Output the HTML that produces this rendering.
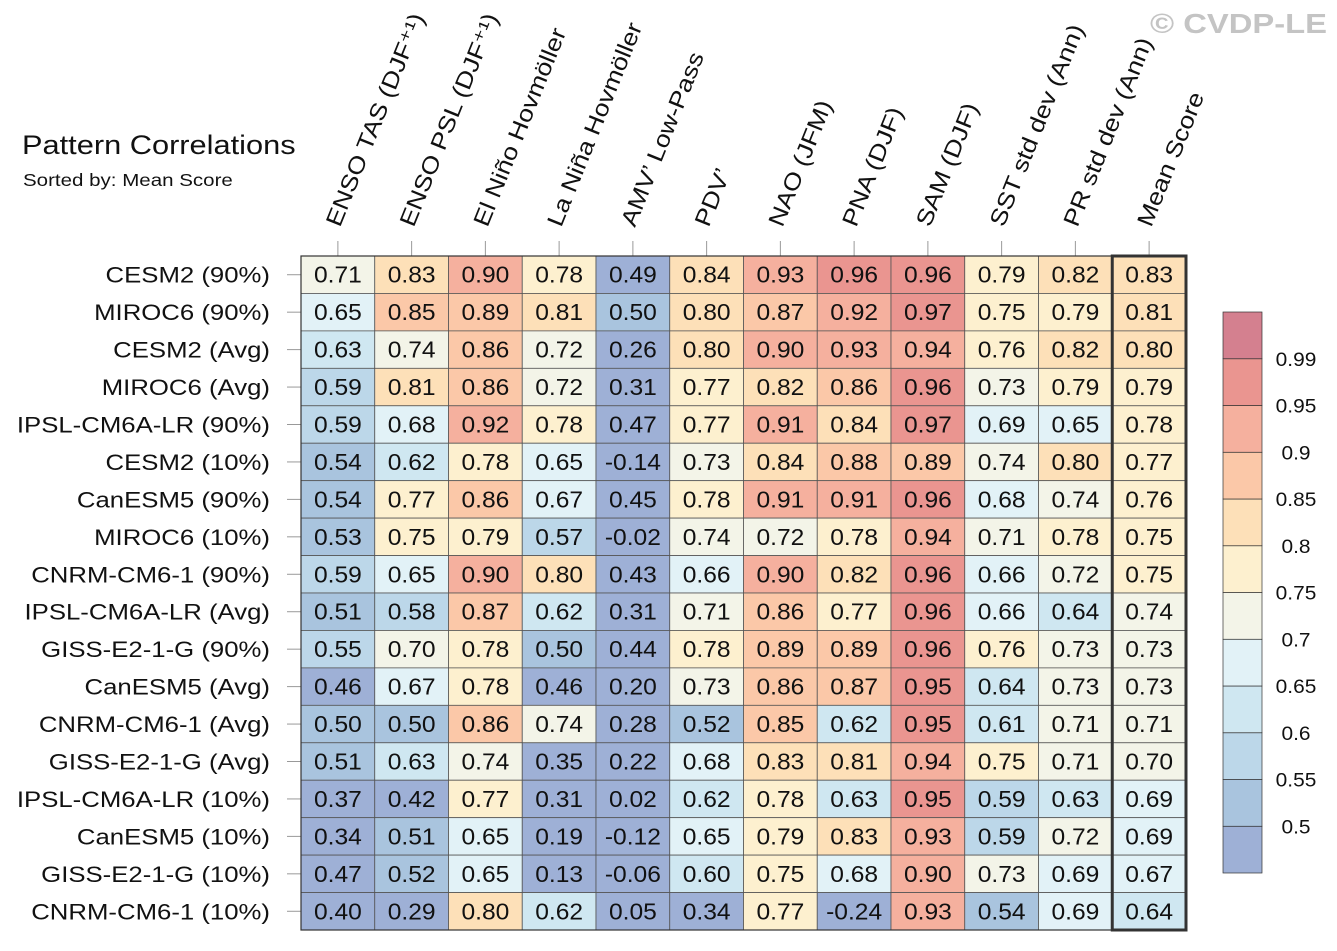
<!DOCTYPE html>
<html><head><meta charset="utf-8"><style>
html,body{margin:0;padding:0;background:#fff;}
svg{display:block;font-family:"Liberation Sans",Arial,sans-serif;}
</style></head><body>
<svg id="chart" width="1337" height="951" viewBox="0 0 1337 951">
<text transform="translate(1327,33) scale(1.17,1)" x="0" y="0" text-anchor="end" font-size="28" font-weight="bold" fill="#c4c4c4">© CVDP-LE</text>
<text transform="translate(22,154) scale(1.14,1)" x="0" y="0" font-size="27" fill="#111">Pattern Correlations</text>
<text transform="translate(23,186) scale(1.14,1)" x="0" y="0" font-size="18" fill="#111">Sorted by: Mean Score</text>
<g id="grid"></g>
<g id="cbar"></g>
</svg>
<script>
const columns=["ENSO TAS (DJF⁺¹)","ENSO PSL (DJF⁺¹)","El Niño Hovmöller","La Niña Hovmöller","AMV’ Low-Pass","PDV’","NAO (JFM)","PNA (DJF)","SAM (DJF)","SST std dev (Ann)","PR std dev (Ann)","Mean Score"];
const rows=["CESM2 (90%)","MIROC6 (90%)","CESM2 (Avg)","MIROC6 (Avg)","IPSL-CM6A-LR (90%)","CESM2 (10%)","CanESM5 (90%)","MIROC6 (10%)","CNRM-CM6-1 (90%)","IPSL-CM6A-LR (Avg)","GISS-E2-1-G (90%)","CanESM5 (Avg)","CNRM-CM6-1 (Avg)","GISS-E2-1-G (Avg)","IPSL-CM6A-LR (10%)","CanESM5 (10%)","GISS-E2-1-G (10%)","CNRM-CM6-1 (10%)"];
const values=[
[0.71,0.83,0.90,0.78,0.49,0.84,0.93,0.96,0.96,0.79,0.82,0.83],
[0.65,0.85,0.89,0.81,0.50,0.80,0.87,0.92,0.97,0.75,0.79,0.81],
[0.63,0.74,0.86,0.72,0.26,0.80,0.90,0.93,0.94,0.76,0.82,0.80],
[0.59,0.81,0.86,0.72,0.31,0.77,0.82,0.86,0.96,0.73,0.79,0.79],
[0.59,0.68,0.92,0.78,0.47,0.77,0.91,0.84,0.97,0.69,0.65,0.78],
[0.54,0.62,0.78,0.65,-0.14,0.73,0.84,0.88,0.89,0.74,0.80,0.77],
[0.54,0.77,0.86,0.67,0.45,0.78,0.91,0.91,0.96,0.68,0.74,0.76],
[0.53,0.75,0.79,0.57,-0.02,0.74,0.72,0.78,0.94,0.71,0.78,0.75],
[0.59,0.65,0.90,0.80,0.43,0.66,0.90,0.82,0.96,0.66,0.72,0.75],
[0.51,0.58,0.87,0.62,0.31,0.71,0.86,0.77,0.96,0.66,0.64,0.74],
[0.55,0.70,0.78,0.50,0.44,0.78,0.89,0.89,0.96,0.76,0.73,0.73],
[0.46,0.67,0.78,0.46,0.20,0.73,0.86,0.87,0.95,0.64,0.73,0.73],
[0.50,0.50,0.86,0.74,0.28,0.52,0.85,0.62,0.95,0.61,0.71,0.71],
[0.51,0.63,0.74,0.35,0.22,0.68,0.83,0.81,0.94,0.75,0.71,0.70],
[0.37,0.42,0.77,0.31,0.02,0.62,0.78,0.63,0.95,0.59,0.63,0.69],
[0.34,0.51,0.65,0.19,-0.12,0.65,0.79,0.83,0.93,0.59,0.72,0.69],
[0.47,0.52,0.65,0.13,-0.06,0.60,0.75,0.68,0.90,0.73,0.69,0.67],
[0.40,0.29,0.80,0.62,0.05,0.34,0.77,-0.24,0.93,0.54,0.69,0.64]];
const levels=[0.5,0.55,0.6,0.65,0.7,0.75,0.8,0.85,0.9,0.95,0.99];
const levelLabels=["0.5","0.55","0.6","0.65","0.7","0.75","0.8","0.85","0.9","0.95","0.99"];
const palette=["#9eb0d6","#a9c4de","#bcd7e9","#cfe7f1","#e2f2f7","#f3f4e8","#fdf0cf","#fde0b8","#fbc8a8","#f5b09e","#ea9590","#d4808f"];

const NS="http://www.w3.org/2000/svg";
const gx0=301,gx1=1186,gy0=256,gy1=930;
const cw=(gx1-gx0)/columns.length, rh=(gy1-gy0)/rows.length;
const xPos=i=>gx0+i*cw, yPos=j=>gy0+j*rh;
function colorFor(v){let k=0;for(let i=0;i<levels.length;i++){if(v>=levels[i]-1e-9)k=i+1;}return palette[k];}
function mk(tag,attrs,parent){const e=document.createElementNS(NS,tag);for(const a in attrs)e.setAttribute(a,attrs[a]);parent.appendChild(e);return e;}
const g=document.getElementById('grid');
columns.forEach((c,i)=>{
  const cx=xPos(i)+cw/2;
  const t=mk('line',{x1:cx,y1:241,x2:cx,y2:gy0,stroke:'#999','stroke-width':1},g);
  
  
  const tx=mk('text',{x:0,y:0,'font-size':23,fill:'#111',transform:`translate(${cx+2},${228}) rotate(-68) scale(1.15,1)`},g);
  tx.textContent=c;
  
  
});
rows.forEach((r,j)=>{
  const cy=yPos(j)+rh/2;
  const t=mk('line',{x1:287,y1:cy,x2:gx0,y2:cy,stroke:'#999','stroke-width':1},g);
  
  
  const tx=mk('text',{x:0,y:0,'font-size':22,fill:'#111','text-anchor':'end',transform:`translate(270,${cy+8}) scale(1.17,1)`},g);
  tx.textContent=r;
  
  
  values[j].forEach((v,i)=>{
    const rc=mk('rect',{x:xPos(i),y:yPos(j),width:cw,height:rh,fill:colorFor(v),stroke:'#555','stroke-width':0.8},g);
    
    
    const vt=mk('text',{x:0,y:0,'font-size':23,fill:'#111','text-anchor':'middle',transform:`translate(${xPos(i)+cw/2},${yPos(j)+rh/2+8}) scale(1.07,1)`},g);
    vt.textContent=v.toFixed(2);
    
    
  });
});
const ob=mk('rect',{x:gx0,y:gy0,width:gx1-gx0,height:gy1-gy0,fill:'none',stroke:'#333','stroke-width':1.2},g);


const mb=mk('rect',{x:xPos(columns.length-1),y:gy0,width:cw,height:gy1-gy0,fill:'none',stroke:'#333','stroke-width':3},g);


const cb=document.getElementById('cbar');
const bx=1223,bw=39,by0=312,by1=873,bh=(by1-by0)/palette.length;
palette.forEach((p,k)=>{
  const y=by1-(k+1)*bh;
  const r=mk('rect',{x:bx,y:y,width:bw,height:bh,fill:p,stroke:'#333','stroke-width':0.7},cb);
  
  
});
levelLabels.forEach((l,k)=>{
  const y=by1-(k+1)*bh;
  const t=mk('text',{x:0,y:0,'font-size':19,fill:'#111','text-anchor':'middle',transform:`translate(1296,${y+7}) scale(1.1,1)`},cb);
  t.textContent=l;
  
  
});
</script>
</body></html>
